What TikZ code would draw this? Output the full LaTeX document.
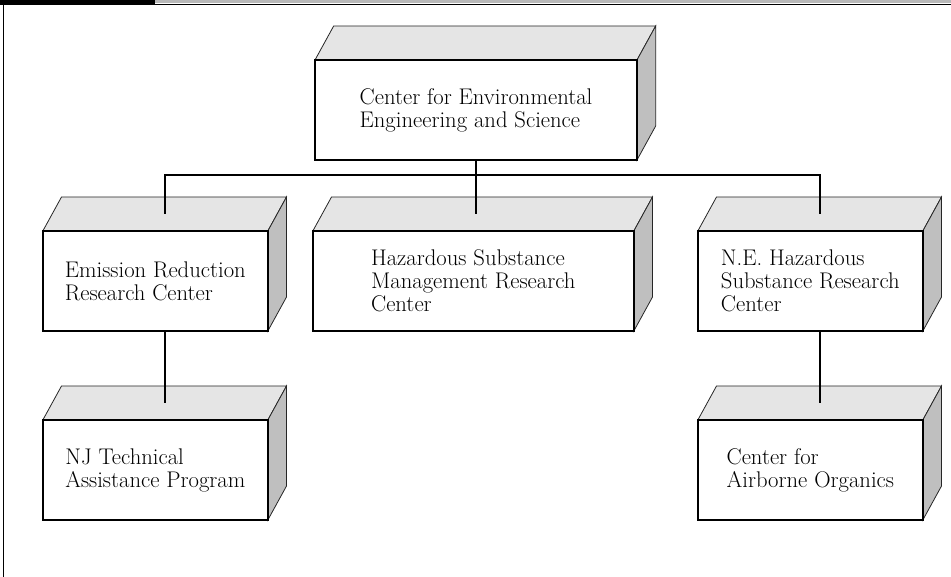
\documentclass[tikz,border=0pt]{standalone}
\usetikzlibrary{positioning,calc,backgrounds}
\tikzstyle{cbox}=[rectangle, draw=black, fill=white, line width=1.5pt, outer sep=0pt, minimum height=75pt, inner sep=0pt, align=left, font=\fontsize{17}{17.25}\selectfont]
\tikzstyle{topface}=[draw=black!85, fill=gray!20, line width=0.6pt]
\tikzstyle{sideface}=[draw=black!85, fill=gray!50, line width=0.6pt]
\tikzstyle{line}=[-, line width=1.5pt]
\newcommand\cubenode[4][]{
            \node (#2) [cbox, minimum width=#3, #1] {#4};
            \begin{scope}[on background layer]
              \filldraw[topface] (#2.north west) -- ++(14pt,25.5pt) -- ($(#2.north east)+(14pt,25.5pt)$) -- (#2.north east) -- cycle;
              \filldraw[sideface] (#2.north east) -- ++(14pt,25.5pt) -- ($(#2.south east)+(14pt,25.5pt)$) -- (#2.south east) -- cycle;
            \end{scope}
            \coordinate (#2t) at ($(#2.north)+(7pt,12.75pt)$);
        }
\begin{document}
\begin{tikzpicture}
    \useasboundingbox (0,0) rectangle (713.25pt,-432.75pt);
% page frame
    \fill[black] (0,0) rectangle (116.25pt,-3.75pt);
    \fill[gray!55] (116.25pt,0) rectangle (713.25pt,-2pt);
    \draw[line width=1.1pt] (116.25pt,-3.3pt) -- (713.25pt,-3.3pt);
    \draw[line width=0.75pt] (2.25pt,-3.75pt) -- (2.25pt,-432.75pt);

    \cubenode[at={(357pt,-82.5pt)}]{cees}{241.5pt}{Center for Environmental\\Engineering and Science};
    \cubenode[below=53.25pt of cees, xshift=-2pt]{hsmrc}{240.75pt}{Hazardous Substance\\Management Research\\Center};
    \cubenode[left=33.75pt of hsmrc]{errc}{168.75pt}{Emission Reduction\\Research Center};
    \cubenode[right=48pt of hsmrc]{nehsrc}{168.75pt}{N.E. Hazardous\\Substance Research\\Center};
    \cubenode[below=66.75pt of errc]{njtap}{168.75pt}{NJ Technical\\Assistance Program};
    \cubenode[below=66.75pt of nehsrc]{cao}{168.75pt}{Center for\\Airborne Organics};

    \coordinate (split) at ([yshift=-11.25pt]cees.south);

%centers
   \draw[line] (errct) |- (split) -| (nehsrct);
   \draw[line] (cees.south) -- (cees.south |- hsmrct);
%sub centers
   \draw[line] (njtapt) -- (njtapt |- errc.south);
   \draw[line] (caot) -- (caot |- nehsrc.south);

\end{tikzpicture}
\end{document}
